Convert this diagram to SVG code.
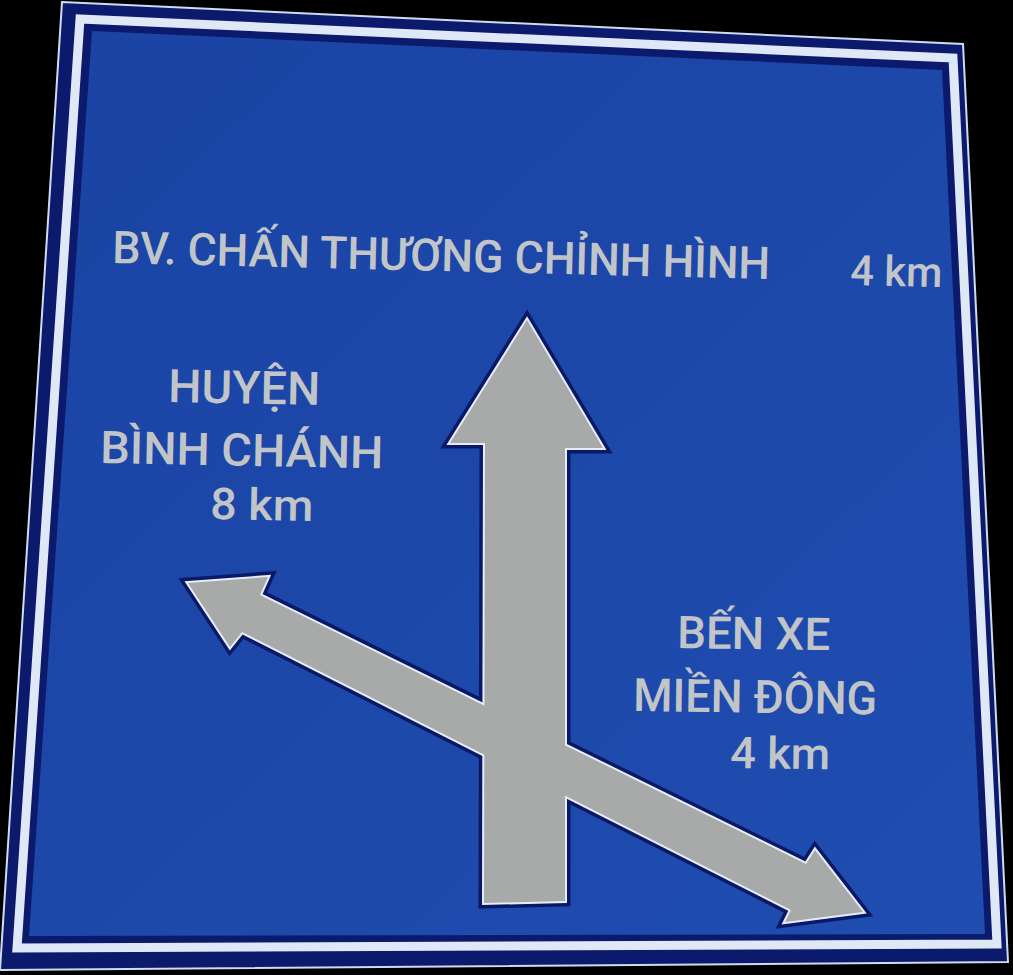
<svg xmlns="http://www.w3.org/2000/svg" xmlns:xlink="http://www.w3.org/1999/xlink" width="1013" height="975" viewBox="0 0 1013 975">
  <style>
    .lbl { font-family: "Roboto", "DejaVu Sans", sans-serif; font-weight: 500; fill: #c2c5c8; }
    .halo { fill: #0a1866; stroke: #0a1866; stroke-width: 11; stroke-linejoin: miter; }
    .edge { fill: #e6eef9; stroke: #e6eef9; stroke-width: 4; stroke-linejoin: miter; }
    .body { fill: #a8aaa9; }
  </style>
  <defs>
    <linearGradient id="field" x1="0" y1="0" x2="1" y2="1">
      <stop offset="0" stop-color="#1a43a3"/>
      <stop offset="1" stop-color="#1f4db0"/>
    </linearGradient>
    <polygon id="diag" points="188,583 268,577 260,595 806,864 815,850 863,912 785,922 791,910 242,632 230,647"/>
    <polygon id="vert" points="527,320 603,448 565,448 565,901 484,903 485,443 450,443"/>
  </defs>

  <rect x="0" y="0" width="1013" height="975" fill="#000"/>

  <g id="sign-frame">
    <polygon points="62,2 963,44 1008,962 0,970" fill="#0b1a6c" stroke="#cfdcf0" stroke-width="2"/>
    <polygon points="80,19 953,58 997,944 17,948" fill="#0b1a6c" stroke="#dfe8f6" stroke-width="9"/>
    <polygon points="92,31 942,70 985,934 29,936" fill="url(#field)"/>
  </g>

  <g id="arrows">
    <use xlink:href="#diag" class="halo"/>
    <use xlink:href="#vert" class="halo"/>
    <use xlink:href="#diag" class="edge"/>
    <use xlink:href="#vert" class="edge"/>
    <use xlink:href="#diag" class="body"/>
    <use xlink:href="#vert" class="body"/>
  </g>

  <g id="label-straight">
    <text class="lbl" x="112" y="263" font-size="45" textLength="658" lengthAdjust="spacingAndGlyphs" transform="rotate(1.4 112 263)">BV. CHẤN THƯƠNG CHỈNH HÌNH</text>
    <text class="lbl" x="850" y="285" font-size="42" textLength="92" lengthAdjust="spacingAndGlyphs" transform="rotate(1.4 850 285)">4 km</text>
  </g>

  <g id="label-left">
    <text class="lbl" x="168" y="402" font-size="46" textLength="152" lengthAdjust="spacingAndGlyphs" transform="rotate(1.1 168 402)">HUYỆN</text>
    <text class="lbl" x="100" y="463" font-size="45" textLength="283" lengthAdjust="spacingAndGlyphs" transform="rotate(1.1 100 463)">BÌNH CHÁNH</text>
    <text class="lbl" x="210" y="519" font-size="44" textLength="103" lengthAdjust="spacingAndGlyphs" transform="rotate(1.1 210 519)">8 km</text>
  </g>

  <g id="label-right">
    <text class="lbl" x="677" y="648" font-size="45" textLength="153" lengthAdjust="spacingAndGlyphs" transform="rotate(0.8 677 648)">BẾN XE</text>
    <text class="lbl" x="633" y="711" font-size="46" textLength="244" lengthAdjust="spacingAndGlyphs" transform="rotate(0.8 633 711)">MIỀN ĐÔNG</text>
    <text class="lbl" x="730" y="768" font-size="44" textLength="100" lengthAdjust="spacingAndGlyphs" transform="rotate(0.8 730 768)">4 km</text>
  </g>
</svg>
